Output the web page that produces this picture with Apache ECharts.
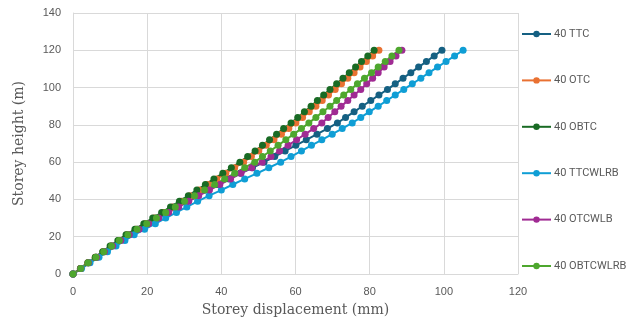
<!DOCTYPE html>
<html>
<head>
<meta charset="utf-8">
<script src="https://cdn.jsdelivr.net/npm/echarts@6/dist/echarts.min.js"></script>
<style>html,body{margin:0;padding:0;background:#fff;}#c{width:636px;height:327px;}</style>
</head>
<body>
<div id="c"></div>
<script>
const heights = [0,3,6,9,12,15,18,21,24,27,30,33,36,39,42,45,48,51,54,57,60,63,66,69,72,75,78,81,84,87,90,93,96,99,102,105,108,111,114,117,120];
const ttc = [0,2.1,4.2,6.3,8.4,10.5,12.6,14.8,17.3,19.8,22.3,24.7,27.2,29.7,32.6,35.8,38.9,42.1,45.2,48.4,51.5,54.4,57.2,60.1,62.9,65.8,68.6,71.3,73.5,75.8,78.0,80.3,82.5,84.8,86.9,89.0,91.1,93.2,95.3,97.4,99.5];
const otc = [0,2.0,4.0,6.0,8.1,10.2,12.3,14.5,16.9,19.4,21.9,24.3,26.8,29.2,31.6,34.0,36.4,38.8,41.2,43.6,46.0,48.1,50.1,52.1,54.2,56.2,58.2,60.1,61.9,63.7,65.5,67.2,68.9,70.7,72.4,74.1,75.8,77.4,79.1,80.8,82.5];
const obtc = [0,2.0,4.0,6.0,8.0,10.0,12.1,14.3,16.7,19.1,21.5,23.9,26.3,28.7,31.1,33.4,35.7,38.0,40.4,42.7,45.0,47.1,49.1,51.1,53.0,54.9,56.8,58.8,60.6,62.4,64.2,65.9,67.6,69.3,71.1,72.8,74.5,76.2,77.8,79.5,81.2];
const ttcwlrb = [0,2.3,4.6,7.0,9.3,11.6,14.0,16.5,19.3,22.2,25.0,27.9,30.7,33.6,36.7,40.0,43.1,46.3,49.6,52.8,56.0,58.8,61.6,64.3,67.1,69.9,72.6,75.3,77.6,79.9,82.3,84.6,86.9,89.2,91.5,93.8,96.0,98.3,100.6,102.9,105.2];
const otcwlb = [0,2.1,4.2,6.4,8.5,10.7,12.9,15.2,17.8,20.4,23.1,25.8,28.5,31.2,33.9,36.8,39.6,42.5,45.3,48.2,51.0,53.4,55.7,58.0,60.3,62.6,64.9,67.1,68.8,70.6,72.3,74.1,75.8,77.6,79.2,80.8,82.3,83.9,85.5,87.1,88.7];
const obtcwlrb = [0,2.1,4.1,6.2,8.3,10.4,12.5,14.8,17.3,19.9,22.5,25.0,27.6,30.1,32.8,35.5,38.2,40.9,43.6,46.3,49.0,51.1,53.2,55.3,57.4,59.5,61.6,63.6,65.5,67.4,69.3,71.1,73.0,74.9,76.7,78.6,80.5,82.3,84.2,86.0,87.9];
const seriesNames = ['40 TTC','40 OTC','40 OBTC','40 TTCWLRB','40 OTCWLB','40 OBTCWLRB'];
const seriesData = [ttc, otc, obtc, ttcwlrb, otcwlb, obtcwlrb];
const colors = ['#156082','#E97132','#196B24','#0F9ED5','#A02B93','#4EA72E'];

const chart = echarts.init(document.getElementById('c'), null, {renderer:'canvas'});
const gridColor = '#d9d9d9';
const labelColor = '#595959';
chart.setOption({
  animation: false,
  color: colors,
  grid: {left: 73, right: 118, top: 13, bottom: 53, containLabel: false},
  legend: {
    orient: 'vertical',
    left: 521,
    top: 27,
    padding: 0,
    itemWidth: 29,
    itemHeight: 8,
    itemGap: 32.4,
    textStyle: {color: labelColor, fontSize: 11, fontFamily: 'Roboto, Liberation Sans, sans-serif', lineHeight: 14, padding: [0, 0, 0, -2]},
    data: seriesNames
  },
  xAxis: {
    type: 'value', min: 0, max: 120, interval: 20,
    name: 'Storey displacement (mm)', nameLocation: 'middle', nameGap: 29,
    nameTextStyle: {fontFamily: 'DejaVu Serif, Liberation Serif, serif', fontSize: 14, color: labelColor},
    axisLine: {show: true, lineStyle: {color: gridColor}},
    axisTick: {show: false},
    axisLabel: {color: labelColor, fontSize: 11, fontFamily: 'Liberation Sans, Arial, sans-serif', margin: 12},
    splitLine: {show: true, lineStyle: {color: gridColor}}
  },
  yAxis: {
    type: 'value', min: 0, max: 140, interval: 20,
    name: 'Storey height (m)', nameLocation: 'middle', nameGap: 47,
    nameTextStyle: {fontFamily: 'DejaVu Serif, Liberation Serif, serif', fontSize: 14, color: labelColor},
    axisLine: {show: true, lineStyle: {color: gridColor}},
    axisTick: {show: false},
    axisLabel: {color: labelColor, fontSize: 11, fontFamily: 'Liberation Sans, Arial, sans-serif', margin: 12},
    splitLine: {show: true, lineStyle: {color: gridColor}}
  },
  series: seriesNames.map((n, i) => ({
    name: n,
    type: 'line',
    data: seriesData[i].map((x, k) => [x, heights[k]]),
    symbol: 'circle',
    symbolSize: 7,
    showAllSymbol: true,
    lineStyle: {width: 2, color: colors[i]},
    itemStyle: {color: colors[i]}
  }))
});
</script>
</body>
</html>
